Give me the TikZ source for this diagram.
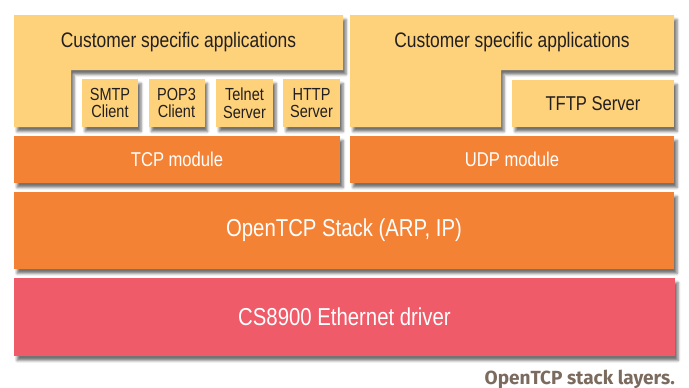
\documentclass[tikz,border=0pt]{standalone}
\usepackage{fontspec}
\setmainfont{Liberation Sans}[FakeStretch=0.83]
\newfontfamily\capfont{Fira Sans}
\usetikzlibrary{shadows.blur}
\definecolor{appY}{HTML}{FDD27A}
\definecolor{modO}{HTML}{F48235}
\definecolor{drvR}{HTML}{F05B69}
\definecolor{txtD}{HTML}{231F20}
\definecolor{capC}{HTML}{7B6A5E}
\begin{document}
\begin{tikzpicture}[x=1pt,y=-1pt,
  shad/.style={blur shadow={shadow xshift=3pt, shadow yshift=-4.5pt, shadow blur radius=2.5pt, shadow opacity=55}},
  box/.style={shad, inner sep=0pt, outer sep=0pt, draw=none, align=center},
  appbox/.style={box, fill=appY, text=txtD},
  modbox/.style={box, fill=modO, text=white},
  drvbox/.style={box, fill=drvR, text=white},
  big/.style={font=\fontsize{21}{22}\selectfont},
  mid/.style={font=\fontsize{20}{21}\selectfont},
  small/.style={font=\fontsize{17.5}{17.7}\selectfont},
  huge/.style={font=\fontsize{24.5}{26}\selectfont}]
\useasboundingbox (0,0) rectangle (689,388);
% L-shaped application areas
\path[appbox] (14,15) -- (343,15) -- (343,70) -- (71,70) -- (71,127) -- (14,127) -- cycle;
\node[big, text=txtD] (lapp) at (178.5,42.5) {Customer specific applications};
\path[appbox] (350,15) -- (674,15) -- (674,70) -- (501,70) -- (501,127) -- (350,127) -- cycle;
\node[big, text=txtD] (rapp) at (512,42.5) {Customer specific applications};
% small application boxes
\node[appbox, small, minimum width=56pt, minimum height=48pt] (smtp) at (110,103) {SMTP\\Client};
\node[appbox, small, minimum width=56pt, minimum height=48pt] (pop3) at (176.5,103) {POP3\\Client};
\node[appbox, small, minimum width=57pt, minimum height=48pt] (telnet) at (244.5,103) {Telnet\\Server};
\node[appbox, small, minimum width=57pt, minimum height=48pt] (http) at (311.5,103) {HTTP\\Server};
\node[appbox, mid, minimum width=162pt, minimum height=47pt] (tftp) at (593,103.5) {TFTP Server};
% modules
\node[modbox, mid, minimum width=326pt, minimum height=47pt] (tcp) at (177,159.5) {TCP module};
\node[modbox, mid, minimum width=324pt, minimum height=47pt] (udp) at (512,159.5) {UDP module};
\node[modbox, huge, minimum width=660pt, minimum height=77pt] (stack) at (344,230.5) {OpenTCP Stack (ARP, IP)};
\node[drvbox, huge, minimum width=661pt, minimum height=78pt] (drv) at (344.5,317) {CS8900 Ethernet driver};
% caption
\node[anchor=base east, inner sep=0pt, text=capC, font=\capfont\bfseries\fontsize{19}{19}\selectfont] (cap) at (675,384) {OpenTCP stack layers.};
\end{tikzpicture}
\end{document}
